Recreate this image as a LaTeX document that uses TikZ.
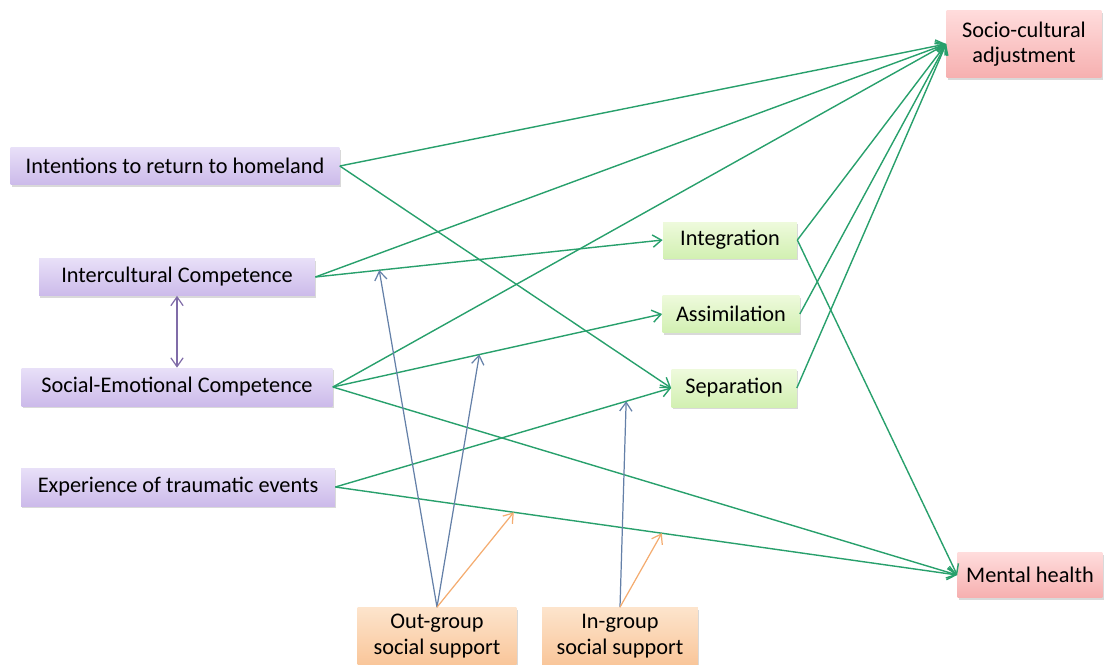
\documentclass[tikz,border=0pt]{standalone}
\usepackage{fontspec}
\setmainfont{Carlito}
\usepackage{tikz}
\usetikzlibrary{calc, arrows.meta, shadows}
\definecolor{linkgreen}{RGB}{40,160,108}
\definecolor{modblue}{RGB}{100,128,168}
\definecolor{modorange}{RGB}{244,172,112}
\definecolor{corrpurple}{RGB}{128,108,168}
\definecolor{purpletop}{RGB}{232,224,248}
\definecolor{purplebot}{RGB}{204,186,234}
\definecolor{greentop}{RGB}{238,250,220}
\definecolor{greenbot}{RGB}{210,240,178}
\definecolor{redtop}{RGB}{255,220,220}
\definecolor{redbot}{RGB}{246,176,176}
\definecolor{orangetop}{RGB}{253,228,204}
\definecolor{orangebot}{RGB}{249,198,154}

\begin{document}
\begin{tikzpicture}[x=0.02cm,y=-0.02cm,font=\fontsize{12.7}{14.5}\selectfont,
    box/.style={inner sep=0pt,align=center,
        drop shadow={opacity=0.3,shadow xshift=0.6pt,shadow yshift=-1.4pt}},
    predictor/.style={box,top color=purpletop,bottom color=purplebot},
    strategy/.style={box,top color=greentop,bottom color=greenbot},
    outcome/.style={box,top color=redtop,bottom color=redbot},
    support/.style={box,top color=orangetop,bottom color=orangebot},
    path/.style={-{Straight Barb[length=5pt,width=7pt]},line width=0.8pt,linkgreen},
    moderate/.style={-{Straight Barb[length=5pt,width=7pt]},line width=0.7pt}]
    \useasboundingbox (0,0) rectangle (1110,664);
    % predictors
    \node[predictor,minimum width=6.58cm,minimum height=0.74cm] (int) at (175,166) {Intentions to return to homeland};
    \node[predictor,minimum width=5.52cm,minimum height=0.74cm] (icc) at (177,277) {Intercultural Competence};
    \node[predictor,minimum width=6.22cm,minimum height=0.76cm] (sec) at (177,387) {Social-Emotional Competence};
    \node[predictor,minimum width=6.28cm,minimum height=0.76cm] (exp) at (178,487) {Experience of traumatic events};
    % acculturation
    \node[strategy,minimum width=2.68cm,minimum height=0.72cm] (integ) at (730,240) {Integration};
    \node[strategy,minimum width=2.74cm,minimum height=0.74cm] (assim) at (731,314) {Assimilation};
    \node[strategy,minimum width=2.5cm,minimum height=0.76cm] (sep) at (734,388) {Separation};
    % outcomes
    \node[outcome,minimum width=3.1cm,minimum height=1.34cm] (soc) at (1024,44) {Socio-cultural\\adjustment};
    \node[outcome,minimum width=2.9cm,minimum height=0.9cm] (mh) at (1030,575) {Mental health};
    % social support
    \node[support,minimum width=3.18cm,minimum height=1.14cm] (outg) at (437,636) {Out-group\\social support};
    \node[support,minimum width=3.12cm,minimum height=1.14cm] (ing) at (620,636) {In-group\\social support};

    \draw[path] (int.east) -- (soc.west);
    \draw[path] (int.east) -- (sep.west);
    \draw[path] (icc.east) -- (soc.west);
    \draw[path] (icc.east) -- (integ.west);
    \draw[path] (sec.east) -- (soc.west);
    \draw[path] (sec.east) -- (assim.west);
    \draw[path] (sec.east) -- (mh.west);
    \draw[path] (exp.east) -- (sep.west);
    \draw[path] (exp.east) -- (mh.west);
    \draw[path] (integ.east) -- (soc.west);
    \draw[path] (integ.east) -- (mh.west);
    \draw[path] (assim.east) -- (soc.west);
    \draw[path] (sep.east) -- (soc.west);
    \draw[{Straight Barb[length=5pt,width=7pt]}-{Straight Barb[length=5pt,width=7pt]},line width=0.7pt,corrpurple] (icc.south) -- (sec.north); %correlation

    % moderation points on the paths
    \coordinate (m1) at ($(icc.east)!0.184!(integ.west)$);
    \coordinate (m2) at ($(sec.east)!0.445!(assim.west)$);
    \coordinate (m3) at ($(exp.east)!0.866!(sep.west)$);
    \coordinate (m4) at ($(exp.east)!0.287!(mh.west)$);
    \coordinate (m5) at ($(exp.east)!0.525!(mh.west)$);
    \draw[moderate,modblue] (outg.north) -- (m1);
    \draw[moderate,modblue] (outg.north) -- (m2);
    \draw[moderate,modorange] (outg.north) -- (m4);
    \draw[moderate,modblue] (ing.north) -- (m3);
    \draw[moderate,modorange] (ing.north) -- (m5);
\end{tikzpicture}
\end{document}
